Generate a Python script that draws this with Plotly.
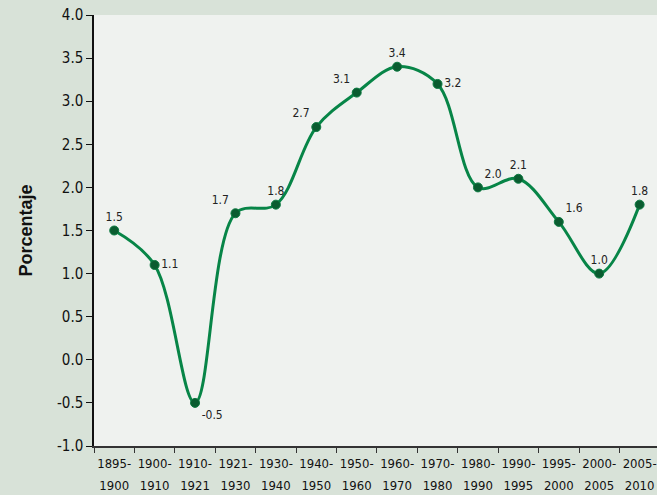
import plotly.graph_objects as go

period_start = ["1895-", "1900-", "1910-", "1921-", "1930-", "1940-", "1950-", "1960-", "1970-",
                "1980-", "1990-", "1995-", "2000-", "2005-"]
period_end = ["1900", "1910", "1921", "1930", "1940", "1950", "1960", "1970", "1980",
              "1990", "1995", "2000", "2005", "2010"]
rates = [1.5, 1.1, -0.5, 1.7, 1.8, 2.7, 3.1, 3.4, 3.2, 2.0, 2.1, 1.6, 1.0, 1.8]
label_text = ["1.5", "1.1", "-0.5", "1.7", "1.8", "2.7", "3.1", "3.4", "3.2", "2.0", "2.1", "1.6", "1.0", "1.8"]
label_pos = ["top center", "middle right", "bottom right", "top left", "top center", "top left",
             "top left", "top center", "middle right", "top right", "top center", "top right",
             "top center", "top center"]
y_ticks = [-1.0, -0.5, 0.0, 0.5, 1.0, 1.5, 2.0, 2.5, 3.0, 3.5, 4.0]
y_tick_text = ["-1.0", "-0.5", "0.0", "0.5", "1.0", "1.5", "2.0", "2.5", "3.0", "3.5", "4.0"]

NARROW = "DejaVu Sans Condensed, Liberation Sans Narrow, Roboto, sans-serif"

periods = [f'<span style="font-size:13px">{a}</span><br><span style="font-size:13px">{b}</span>'
           for a, b in zip(period_start, period_end)]

fig = go.Figure()
fig.add_trace(go.Scatter(
    x=periods, y=rates, mode="lines+markers+text",
    line=dict(color="#078547", width=3, shape="spline", smoothing=1.0),
    marker=dict(color="#0a5c30", size=9, line=dict(color="#0a7a40", width=1)),
    text=label_text, textposition=label_pos,
    textfont=dict(family=NARROW, size=12, color="#222"),
    cliponaxis=False, showlegend=False, hoverinfo="skip",
))

fig.update_layout(
    width=657, height=495,
    margin=dict(l=94, r=0, t=15, b=49),
    paper_bgcolor="#d8e2d8", plot_bgcolor="#eff2ef",
    font=dict(family=NARROW, color="#111"),
    xaxis=dict(type="category", range=[-0.5, 13.43], tickson="boundaries", tickangle=0,
               automargin=False,
               ticks="outside", ticklen=5, tickcolor="#333", showline=True, linecolor="#333",
               linewidth=1.5, showgrid=False, zeroline=False,
               tickfont=dict(family=NARROW, size=17, color="#111")),
    yaxis=dict(range=[-1.0, 4.0], tickvals=y_ticks, ticktext=y_tick_text, automargin=False,
               ticks="outside", ticklen=6, tickcolor="#111", showline=True, linecolor="#111",
               linewidth=1.5, showgrid=False, zeroline=False,
               tickfont=dict(family=NARROW, size=15, color="#111"),
               title=dict(text="<b>Porcentaje</b>", standoff=20,
                          font=dict(family="Liberation Sans", size=18, color="#111"))),
)

fig.write_html("out.html", config={"displayModeBar": False},
               post_script="document.body.style.margin='0';")
